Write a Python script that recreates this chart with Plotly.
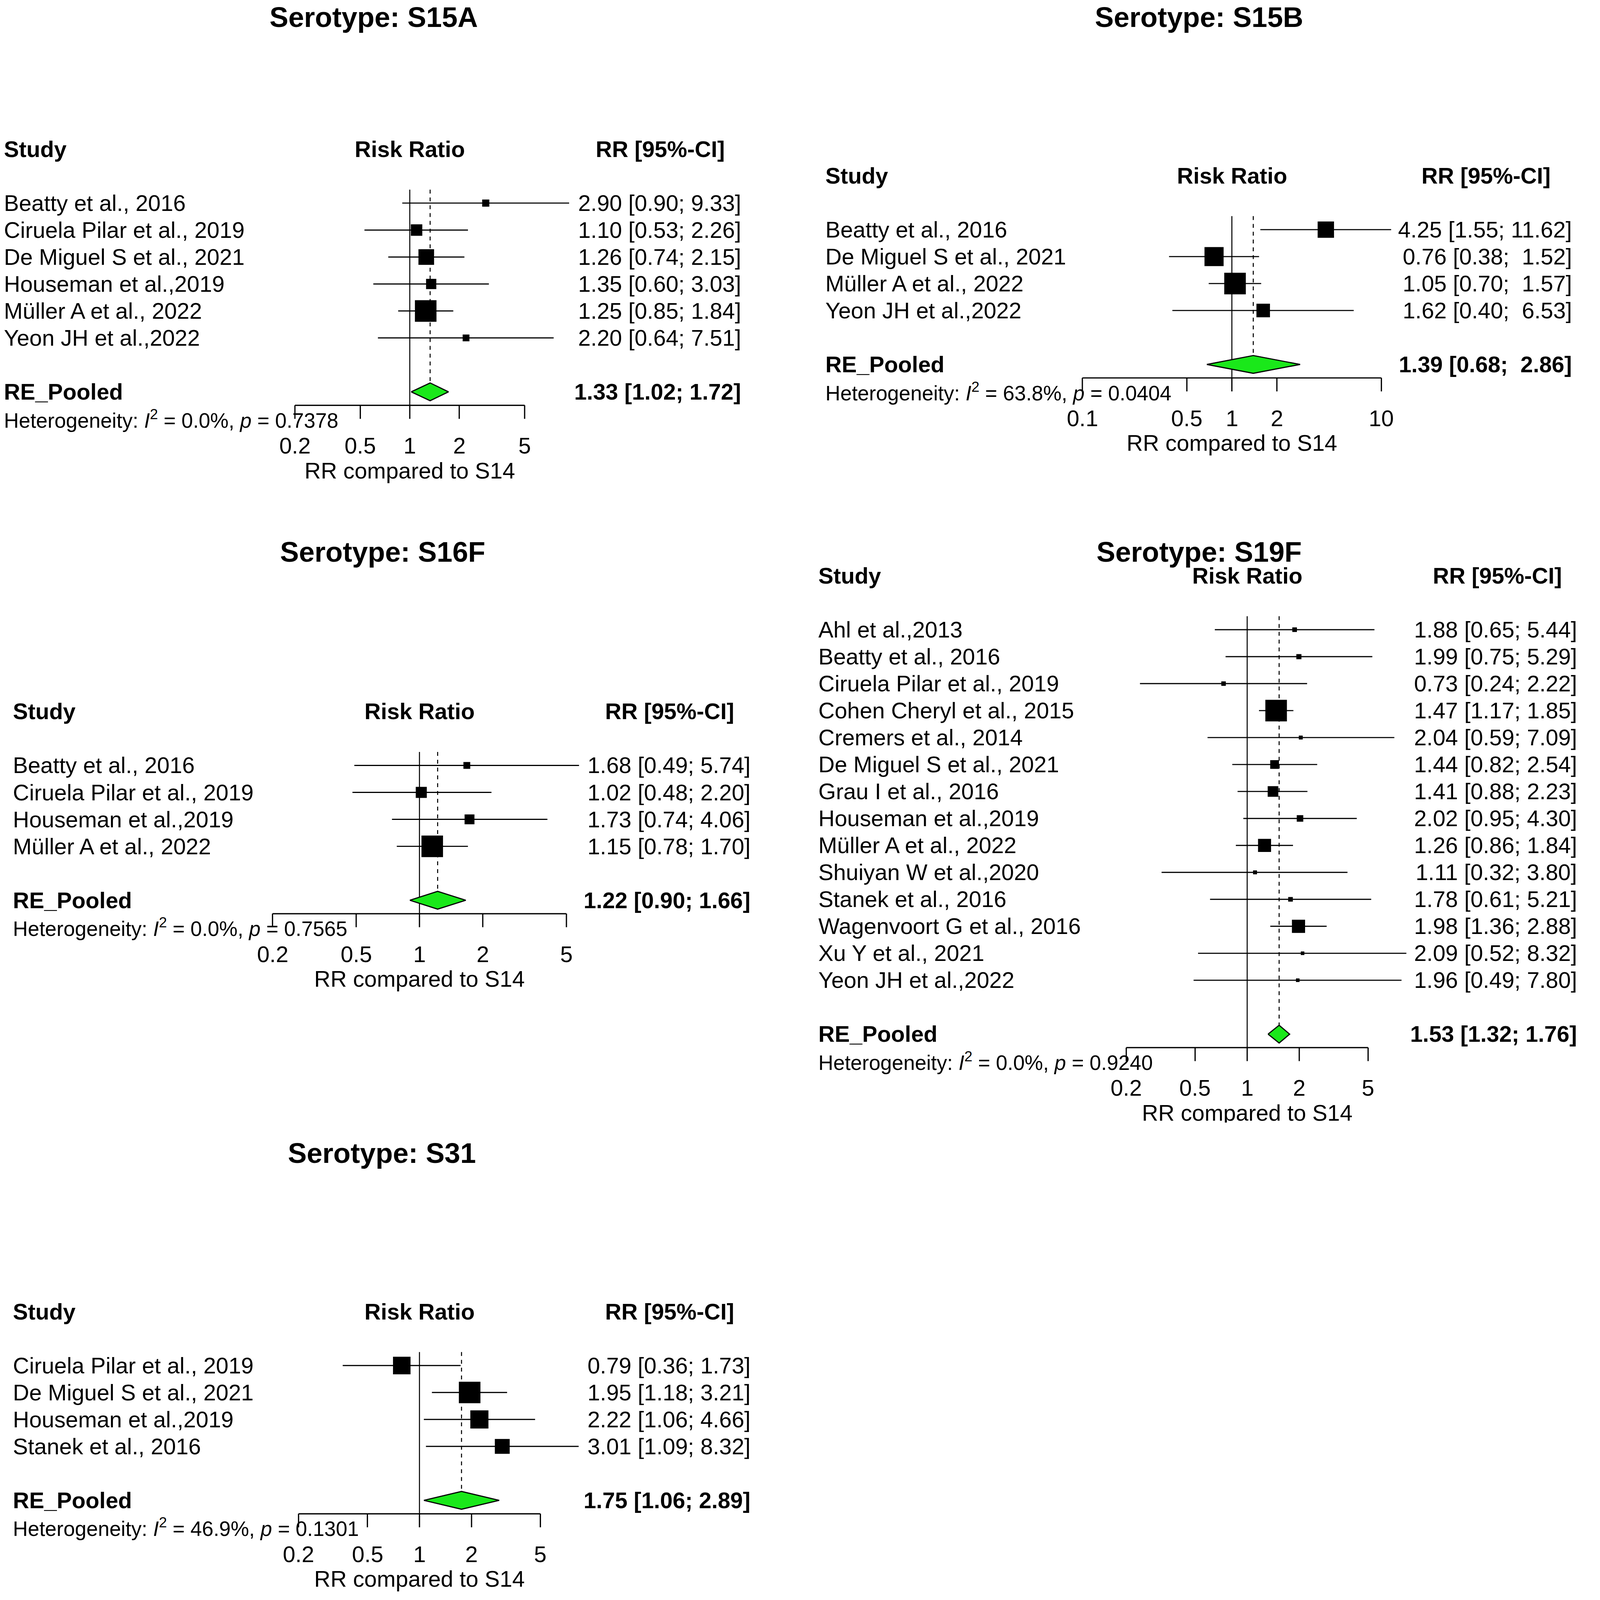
import math
import plotly.graph_objects as go

# -----------------------------
# Data
# -----------------------------
s15a_study = ["Beatty et al., 2016", "Ciruela Pilar et al., 2019", "De Miguel S et al., 2021",
              "Houseman et al.,2019", "Müller A et al., 2022", "Yeon JH et al.,2022"]
s15a_rr = [2.90, 1.10, 1.26, 1.35, 1.25, 2.20]
s15a_lo = [0.90, 0.53, 0.74, 0.60, 0.85, 0.64]
s15a_hi = [9.33, 2.26, 2.15, 3.03, 1.84, 7.51]
s15a_wt = [4.9, 12.6, 23.4, 10.1, 44.6, 4.4]
s15a_pool = [1.33, 1.02, 1.72]
s15a_het = ["0.0%", "0.7378"]

s15b_study = ["Beatty et al., 2016", "De Miguel S et al., 2021", "Müller A et al., 2022",
              "Yeon JH et al.,2022"]
s15b_rr = [4.25, 0.76, 1.05, 1.62]
s15b_lo = [1.55, 0.38, 0.70, 0.40]
s15b_hi = [11.62, 1.52, 1.57, 6.53]
s15b_wt = [20.9, 28.5, 36.3, 14.3]
s15b_pool = [1.39, 0.68, 2.86]
s15b_het = ["63.8%", "0.0404"]

s16f_study = ["Beatty et al., 2016", "Ciruela Pilar et al., 2019", "Houseman et al.,2019",
              "Müller A et al., 2022"]
s16f_rr = [1.68, 1.02, 1.73, 1.15]
s16f_lo = [0.49, 0.48, 0.74, 0.78]
s16f_hi = [5.74, 2.20, 4.06, 1.70]
s16f_wt = [6.4, 16.7, 13.3, 63.6]
s16f_pool = [1.22, 0.90, 1.66]
s16f_het = ["0.0%", "0.7565"]

s19f_study = ["Ahl et al.,2013", "Beatty et al., 2016", "Ciruela Pilar et al., 2019",
              "Cohen Cheryl et al., 2015", "Cremers et al., 2014", "De Miguel S et al., 2021",
              "Grau I et al., 2016", "Houseman et al.,2019", "Müller A et al., 2022",
              "Shuiyan W et al.,2020", "Stanek et al., 2016", "Wagenvoort G et al., 2016",
              "Xu Y et al., 2021", "Yeon JH et al.,2022"]
s19f_rr = [1.88, 1.99, 0.73, 1.47, 2.04, 1.44, 1.41, 2.02, 1.26, 1.11, 1.78, 1.98, 2.09, 1.96]
s19f_lo = [0.65, 0.75, 0.24, 1.17, 0.59, 0.82, 0.88, 0.95, 0.86, 0.32, 0.61, 1.36, 0.52, 0.49]
s19f_hi = [5.44, 5.29, 2.22, 1.85, 7.09, 2.54, 2.23, 4.30, 1.84, 3.80, 5.21, 2.88, 8.32, 7.80]
s19f_wt = [1.8, 2.2, 1.7, 39.2, 1.3, 6.4, 9.5, 3.6, 14.3, 1.3, 1.8, 14.6, 1.1, 1.1]
s19f_pool = [1.53, 1.32, 1.76]
s19f_het = ["0.0%", "0.9240"]

s31_study = ["Ciruela Pilar et al., 2019", "De Miguel S et al., 2021", "Houseman et al.,2019",
             "Stanek et al., 2016"]
s31_rr = [0.79, 1.95, 2.22, 3.01]
s31_lo = [0.36, 1.18, 1.06, 1.09]
s31_hi = [1.73, 3.21, 4.66, 8.32]
s31_wt = [23.2, 35.2, 24.8, 16.7]
s31_pool = [1.75, 1.06, 2.89]
s31_het = ["46.9%", "0.1301"]

ticks_a = [0.2, 0.5, 1, 2, 5]
ticks_b = [0.1, 0.5, 1, 2, 10]

# -----------------------------
# Page geometry
# positions below are in reference pixels of a 1552 px wide copy
# -----------------------------
W, H = 4213, 4262
S = W / 1552           # reference px -> device px
Z = 1.039              # page zoom seen in the photograph
MARGIN = 8             # default body margin of the page
FW = W / Z - 2 * MARGIN
FH = H / Z - 2 * MARGIN
U = S / Z              # reference px -> css px

PITCH = 26.42
DH = 0.33              # half height of the diamond, in rows
XLIM = (0.05, 20)
FONT = "Liberation Sans, Arial, Helvetica, sans-serif"
GREEN = "#1AE81A"
FS = 60 / Z            # body text
FS_HET = 55 / Z
FS_TITLE = 75 / Z


def px_x(d):
    return (d * U - MARGIN) / FW


def px_y(d):
    return 1 - (d * U - MARGIN) / FH


panels = [
    dict(title="Serotype: S15A", study=s15a_study, rr=s15a_rr, lo=s15a_lo, hi=s15a_hi,
         wt=s15a_wt, pool=s15a_pool, het=s15a_het, ticks=ticks_a,
         title_xy=(366, 17), row0=199, lab_x=3, val_r=727, hdr_c=647, one_x=401.5, dec=161),
    dict(title="Serotype: S15B", study=s15b_study, rr=s15b_rr, lo=s15b_lo, hi=s15b_hi,
         wt=s15b_wt, pool=s15b_pool, het=s15b_het, ticks=ticks_b,
         title_xy=(1175, 17), row0=225, lab_x=808, val_r=1541, hdr_c=1456, one_x=1207, dec=146.5),
    dict(title="Serotype: S16F", study=s16f_study, rr=s16f_rr, lo=s16f_lo, hi=s16f_hi,
         wt=s16f_wt, pool=s16f_pool, het=s16f_het, ticks=ticks_a,
         title_xy=(375, 541), row0=750, lab_x=12, val_r=736, hdr_c=656, one_x=411, dec=206),
    dict(title="Serotype: S19F", study=s19f_study, rr=s19f_rr, lo=s19f_lo, hi=s19f_hi,
         wt=s19f_wt, pool=s19f_pool, het=s19f_het, ticks=ticks_a,
         title_xy=(1175, 541), row0=617, lab_x=801, val_r=1546, hdr_c=1467, one_x=1222, dec=169.5,
         clip=18.28),
    dict(title="Serotype: S31", study=s31_study, rr=s31_rr, lo=s31_lo, hi=s31_hi,
         wt=s31_wt, pool=s31_pool, het=s31_het, ticks=ticks_a,
         title_xy=(374, 1130), row0=1338, lab_x=12, val_r=736, hdr_c=656, one_x=411, dec=169.5),
]

fig = go.Figure()
ann = []


def txt(text, x, y, xref, yref, anchor="left", size=FS, bold=False):
    if bold:
        text = "<b>" + text + "</b>"
    ann.append(dict(text=text, x=x, y=y, xref=xref, yref=yref, xanchor=anchor, yanchor="middle",
                    showarrow=False, font=dict(family=FONT, size=size, color="black")))


for i, p in enumerate(panels, start=1):
    xa = "x" if i == 1 else f"x{i}"
    ya = "y" if i == 1 else f"y{i}"
    n = len(p["study"])
    pool_row = n + 1
    axis_row = n + 1.5
    rows = list(range(n))

    r_top = -3
    r_bot = p.get("clip", n + 4.5)
    xd = [px_x(p["one_x"] + math.log10(v) * p["dec"]) for v in XLIM]
    yd = [px_y(p["row0"] + r_bot * PITCH), px_y(p["row0"] + r_top * PITCH)]
    fig.update_layout(**{
        ("xaxis" if i == 1 else f"xaxis{i}"): dict(
            type="log", range=[math.log10(XLIM[0]), math.log10(XLIM[1])], domain=xd,
            anchor=ya, visible=False),
        ("yaxis" if i == 1 else f"yaxis{i}"): dict(
            range=[r_bot, r_top], domain=yd, anchor=xa, visible=False),
    })

    est, plo, phi = p["pool"]
    common = dict(xaxis=xa, yaxis=ya, hoverinfo="skip", showlegend=False)

    # reference line at 1 and dotted line at the pooled estimate
    fig.add_trace(go.Scatter(x=[1, 1], y=[-0.5, axis_row], mode="lines",
                             line=dict(color="black", width=2.7 / Z), **common))
    fig.add_trace(go.Scatter(x=[est, est], y=[-0.5, pool_row - DH], mode="lines",
                             line=dict(color="black", width=2.7 / Z, dash="10px,10px"), **common))

    # confidence intervals
    cx, cy = [], []
    for k in rows:
        cx += [p["lo"][k], p["hi"][k], None]
        cy += [k, k, None]
    fig.add_trace(go.Scatter(x=cx, y=cy, mode="lines", line=dict(color="black", width=3 / Z),
                             **common))

    # study boxes, area proportional to weight
    wmax = max(p["wt"])
    sizes = [0.8 * PITCH * U * math.sqrt(w / wmax) for w in p["wt"]]
    fig.add_trace(go.Scatter(x=p["rr"], y=rows, mode="markers",
                             marker=dict(symbol="square", size=sizes, color="black", opacity=1,
                                         line=dict(width=0)), **common))

    # pooled diamond
    fig.add_trace(go.Scatter(x=[plo, est, phi, est, plo],
                             y=[pool_row, pool_row - DH, pool_row, pool_row + DH, pool_row],
                             mode="lines", fill="toself", fillcolor=GREEN,
                             line=dict(color="black", width=3 / Z), **common))

    # x axis line with ticks
    tx = [p["ticks"][0], p["ticks"][-1], None]
    ty = [axis_row, axis_row, None]
    for t in p["ticks"]:
        tx += [t, t, None]
        ty += [axis_row, axis_row + 0.5, None]
    fig.add_trace(go.Scatter(x=tx, y=ty, mode="lines", line=dict(color="black", width=3.3 / Z),
                             **common))

    # axis title (clipped like in the reference for S19F)
    fig.add_trace(go.Scatter(x=[1], y=[n + 4], mode="text", text=["RR compared to S14"],
                             textposition="middle center",
                             textfont=dict(family=FONT, size=FS, color="black"),
                             cliponaxis="clip" in p, **common))

    # texts
    tx0, ty0 = p["title_xy"]
    txt(p["title"], px_x(tx0), px_y(ty0), "paper", "paper", anchor="center", size=FS_TITLE,
        bold=True)
    txt("Study", px_x(p["lab_x"]), -2, "paper", ya, bold=True)
    txt("Risk Ratio", 0, -2, xa, ya, anchor="center", bold=True)
    txt("RR [95%-CI]", px_x(p["hdr_c"]), -2, "paper", ya, anchor="center", bold=True)

    wd = max(len(f"{h:.2f}") for h in p["hi"] + [phi])
    for k in rows:
        txt(p["study"][k], px_x(p["lab_x"]), k, "paper", ya)
        val = f"{p['rr'][k]:.2f} [{p['lo'][k]:.2f}; {p['hi'][k]:>{wd}.2f}]"
        txt(val.replace(" ", "\u00a0"), px_x(p["val_r"]), k, "paper", ya, anchor="right")

    txt("RE_Pooled", px_x(p["lab_x"]), pool_row, "paper", ya, bold=True)
    pval = f"{est:.2f} [{plo:.2f}; {phi:>{wd}.2f}]"
    txt(pval.replace(" ", "\u00a0"), px_x(p["val_r"]), pool_row, "paper", ya,
        anchor="right", bold=True)

    i2, pv = p["het"]
    txt(f"Heterogeneity: <i>I</i><sup>2</sup> = {i2}, <i>p</i> = {pv}",
        px_x(p["lab_x"]), n + 2, "paper", ya, size=FS_HET)

    for t in p["ticks"]:
        txt(f"{t:g}", math.log10(t), n + 3, xa, ya, anchor="center")

fig.update_layout(
    width=FW, height=FH,
    margin=dict(l=0, r=0, t=0, b=0),
    paper_bgcolor="white", plot_bgcolor="white",
    showlegend=False,
    annotations=ann,
)

fig.write_html("out.html")
